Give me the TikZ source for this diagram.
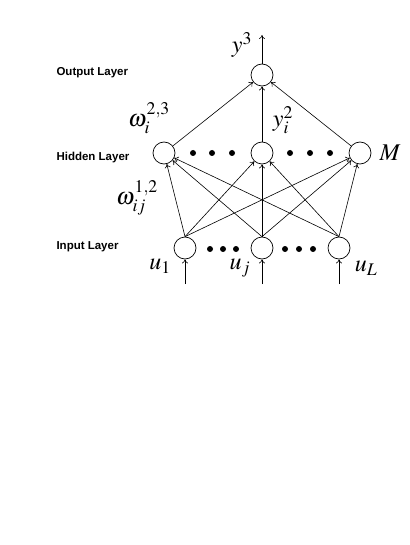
\documentclass[tikz,border=0pt]{standalone}
\usepackage{mathptmx}
\usepackage{fontspec}
\setsansfont{Liberation Sans}
\usetikzlibrary{positioning,arrows.meta}

\begin{document}
\begin{tikzpicture}[x=1pt,y=-1pt,
  neuron/.style={circle,draw,fill=white,minimum size=22pt,inner sep=0pt,line width=.7pt},
  wire/.style={-{To[length=4pt,width=6pt]},line width=.6pt},
  layer/.style={font=\sffamily\bfseries\fontsize{11.5}{13}\selectfont},
  lab/.style={font=\fontsize{24}{28}\selectfont,inner sep=0pt}]
  \useasboundingbox (0,0) rectangle (409,545);
  % Three layers of neurons.
  \node[neuron] (out) at (262,75) {};
  \node[neuron] (hid1) at (164,153) {};
  \node[neuron] (hidi) at (262,153) {};
  \node[neuron] (hidM) at (360,153) {};
  \node[neuron] (in1) at (185,248) {};
  \node[neuron] (inj) at (262,248) {};
  \node[neuron] (inL) at (339,248) {};
  \foreach \x in {193,212,232,290,310,330} \fill (\x,153) circle (3);
  \foreach \x in {210,223,236,285,299,313} \fill (\x,249) circle (3);

  % Weights: every input feeds every hidden neuron.
  \foreach \a in {in1,inj,inL}
    \foreach \b in {hid1,hidi,hidM}
      \draw[wire] (\a.north) -- (\b);
  \foreach \b in {hid1,hidi,hidM}
    \draw[wire] (\b) -- (out);
  \coordinate (top) at (262,35);
  \draw[wire] (out) -- (top);
  \foreach \a/\x in {in1/185,inj/262,inL/339} {
    \coordinate (src\a) at (\x,284);
    \draw[wire] (src\a) -- (\a);
  }

  \node[layer,anchor=west] (lout) at (53,73) {Output Layer};
  \node[layer,anchor=west] (lhid) at (53,158) {Hidden Layer};
  \node[layer,anchor=west] (lin) at (53,247) {Input Layer};

  \node[lab] (ly3) at (242,45) {$y^3$};
  \node[lab] (lyi) at (283,120) {$y_i^2$};
  \node[lab] (lw23) at (149,118) {$\omega_i^{2,3}$};
  \node[lab] (lw12) at (137,198) {$\omega_{ij}^{1,2}$};
  \node[lab] (lM) at (390,153) {$M$};
  \node[lab] (lu1) at (160,266) {$u_1$};
  \node[lab] (luj) at (240,268) {$u_j$};
  \node[lab] (luL) at (366,268) {$u_L$};
\end{tikzpicture}
\end{document}
